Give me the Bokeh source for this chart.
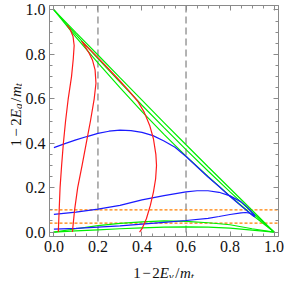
from bokeh.plotting import figure
from bokeh.models import FixedTicker, LinearAxis, Label, Span, Range1d
from bokeh.layouts import row, column
from bokeh.embed import file_html
from bokeh.resources import INLINE
import math

# ---------------- data ----------------
major_ticks = [0.0, 0.2, 0.4, 0.6, 0.8, 1.0]
tick_labels = ["0.0", "0.2", "0.4", "0.6", "0.8", "1.0"]
minor_ticks = [0.05, 0.1, 0.15, 0.25, 0.3, 0.35, 0.45, 0.5, 0.55, 0.65, 0.7, 0.75,
               0.85, 0.9, 0.95]

# green boundary lines from (0,1) to (1,0)
green_x = [0.0, 0.1, 0.2, 0.3, 0.4, 0.5, 0.6, 0.7, 0.8, 0.9, 1.0]
green_outer_y = [1.0, 0.898, 0.797, 0.695, 0.594, 0.493, 0.393, 0.294, 0.196, 0.098, 0.0]
green_mid_y = [1.0, 0.889, 0.781, 0.675, 0.571, 0.470, 0.371, 0.275, 0.181, 0.089, 0.0]
green_inner_y = [1.0, 0.878, 0.762, 0.650, 0.542, 0.440, 0.342, 0.250, 0.162, 0.078, 0.0]
# green boundary lines near the bottom, from (0,0) to (1,0)
green_low_x = [0.0, 0.1, 0.2, 0.3, 0.4, 0.5, 0.6, 0.7, 0.8, 0.9, 1.0]
green_low_a_y = [0.0, 0.015, 0.029, 0.039, 0.046, 0.050, 0.048, 0.042, 0.033, 0.015, 0.0]
green_low_b_y = [0.0, 0.005, 0.010, 0.015, 0.019, 0.022, 0.023, 0.022, 0.018, 0.009, 0.0]

# red curves
red1_x = [0.020, 0.024, 0.028, 0.035, 0.043, 0.053, 0.065, 0.080, 0.088, 0.092, 0.087, 0.075, 0.060]
red1_y = [0.0, 0.1, 0.2, 0.3, 0.4, 0.5, 0.6, 0.7, 0.78, 0.84, 0.88, 0.91, 0.932]
red2_x = [0.084, 0.094, 0.108, 0.128, 0.147, 0.166, 0.183, 0.191, 0.187, 0.175, 0.160, 0.142, 0.125]
red2_y = [0.0, 0.1, 0.2, 0.3, 0.4, 0.5, 0.6, 0.67, 0.73, 0.775, 0.805, 0.835, 0.86]
red3_x = [0.130, 0.200, 0.250, 0.300, 0.340, 0.380, 0.410, 0.435, 0.452, 0.463, 0.466,
          0.462, 0.452, 0.438, 0.420, 0.400, 0.389]
red3_y = [0.855, 0.785, 0.733, 0.680, 0.637, 0.590, 0.540, 0.480, 0.420, 0.350, 0.300,
          0.240, 0.180, 0.120, 0.060, 0.015, 0.0]

# blue curves
blue1_x = [0.0, 0.05, 0.1, 0.15, 0.2, 0.25, 0.3, 0.35, 0.4, 0.45, 0.5, 0.55, 0.6, 0.65,
           0.7, 0.75, 0.8, 0.85, 0.9, 0.912]
blue1_y = [0.380, 0.398, 0.415, 0.430, 0.444, 0.454, 0.459, 0.457, 0.449, 0.434, 0.410,
           0.382, 0.340, 0.294, 0.248, 0.205, 0.160, 0.118, 0.077, 0.068]
blue2_x = [0.0, 0.1, 0.2, 0.3, 0.4, 0.5, 0.6, 0.65, 0.7, 0.75, 0.8, 0.85, 0.88, 0.9, 0.912]
blue2_y = [0.080, 0.090, 0.103, 0.120, 0.145, 0.164, 0.181, 0.186, 0.186, 0.179, 0.163,
           0.136, 0.110, 0.088, 0.075]
blue3_x = [0.0, 0.1, 0.2, 0.3, 0.4, 0.5, 0.6, 0.7, 0.75, 0.8, 0.85, 0.87, 0.89, 0.905, 0.915]
blue3_y = [0.013, 0.017, 0.022, 0.028, 0.036, 0.044, 0.052, 0.062, 0.070, 0.079, 0.086,
           0.088, 0.085, 0.078, 0.070]

vline_x = [0.2, 0.6]        # grey dashed verticals
hline_y = [0.1, 0.04]       # orange dashed horizontals

# (text, font style, is subscript)
x_label_parts = [("1", "normal", False), ("\u2212", "normal", False), ("2", "normal", False),
                 ("E", "italic", False), ("\u03b3", "italic", True), ("/", "normal", False),
                 ("m", "italic", False), ("t", "italic", True)]
y_label_parts = [("1", "normal", False), ("\u2212", "normal", False), ("2", "normal", False),
                 ("E", "italic", False), ("g", "italic", True), ("/", "normal", False),
                 ("m", "italic", False), ("t", "italic", True)]

# ---------------- styling ----------------
FONT = "Liberation Serif"
AXIS_COL = "#8a8a8a"
GREEN = "#00ee00"
RED = "#ff1a1a"
BLUE = "#1a1aff"
TEXT_COL = "#111111"

P_W, P_H = 262, 258
B_LEFT, B_RIGHT, B_TOP, B_BOTTOM = 24, 6, 5, 22
YF_W = 22
XF_H = 20

p = figure(width=P_W, height=P_H, x_range=Range1d(-0.02, 1.02), y_range=Range1d(-0.02, 1.02),
           output_backend="svg", toolbar_location=None,
           min_border_left=B_LEFT, min_border_right=B_RIGHT,
           min_border_top=B_TOP, min_border_bottom=B_BOTTOM)
p.xgrid.visible = False
p.ygrid.visible = False
p.outline_line_color = AXIS_COL


def style_axis(ax, show_labels, standoff):
    ax.ticker = FixedTicker(ticks=major_ticks, minor_ticks=minor_ticks)
    ax.axis_line_color = AXIS_COL
    ax.major_tick_line_color = AXIS_COL
    ax.minor_tick_line_color = AXIS_COL
    ax.major_tick_in = 5
    ax.major_tick_out = 0
    ax.minor_tick_in = 3
    ax.minor_tick_out = 0
    ax.major_label_text_font = FONT
    ax.major_label_text_color = TEXT_COL
    ax.major_label_text_font_size = "16px"
    ax.major_label_standoff = standoff
    if show_labels:
        ax.major_label_overrides = {t: l for t, l in zip(major_ticks, tick_labels)}
    else:
        ax.major_label_overrides = {t: "" for t in major_ticks}


style_axis(p.xaxis[0], True, 4)
style_axis(p.yaxis[0], True, 4)
top_ax = LinearAxis()
right_ax = LinearAxis()
style_axis(top_ax, False, 0)
style_axis(right_ax, False, 0)
p.add_layout(top_ax, "above")
p.add_layout(right_ax, "right")

# reference lines
for xv in vline_x:
    p.add_layout(Span(location=xv, dimension="height", line_color="#9a9a9a",
                      line_width=1.5, line_dash="7 4", level="underlay"))
for yv in hline_y:
    p.add_layout(Span(location=yv, dimension="width", line_color="#ff8000",
                      line_width=1.3, line_dash="3 2", level="underlay"))

# curves
for ys in (green_outer_y, green_mid_y, green_inner_y):
    p.line(green_x, ys, line_color=GREEN, line_width=1.2)
for ys in (green_low_a_y, green_low_b_y):
    p.line(green_low_x, ys, line_color=GREEN, line_width=1.2)
for xs, ys in ((blue1_x, blue1_y), (blue2_x, blue2_y), (blue3_x, blue3_y)):
    p.line(xs, ys, line_color=BLUE, line_width=1.2)
for xs, ys in ((red1_x, red1_y), (red2_x, red2_y), (red3_x, red3_y)):
    p.line(xs, ys, line_color=RED, line_width=1.2)

# ---------------- axis labels (with subscripts) ----------------
MAIN_PX = 15
SUB_PX = 11
adv = {"1": 0.5, "2": 0.5, "\u2212": 0.564, "E": 0.62, "\u03b3": 0.46, "g": 0.5,
       "/": 0.28, "m": 0.72, "t": 0.3}
pad = {"\u2212": 1.5, "/": 0.5}


def piece_widths(parts, extra):
    ws = []
    for t, _, s in parts:
        w = adv[t] * (SUB_PX if s else MAIN_PX) + (0.6 if s else 0.0)
        w += 2 * pad.get(t, 0.0) * extra
        ws.append(w)
    return ws


def blank_fig(w, h, xr, yr):
    f = figure(width=w, height=h, x_range=xr, y_range=yr, output_backend="svg",
               toolbar_location=None, x_axis_type=None, y_axis_type=None,
               min_border=0, outline_line_color=None)
    f.xgrid.visible = False
    f.ygrid.visible = False
    return f


# x label figure (shares the x range, same horizontal frame as the plot)
xfig = blank_fig(P_W, XF_H, p.x_range, Range1d(0, XF_H))
xfig.min_border_left = B_LEFT
xfig.min_border_right = B_RIGHT
ws = piece_widths(x_label_parts, 1.0)
off = -sum(ws) / 2.0
for (txt, style, sub), w in zip(x_label_parts, ws):
    xfig.add_layout(Label(x=0.5, y=6 - (3 if sub else 0), x_offset=off + pad.get(txt, 0.0),
                          text=txt, text_font=FONT, text_font_style=style,
                          text_font_size=f"{SUB_PX if sub else MAIN_PX}px",
                          text_color=TEXT_COL, text_align="left", text_baseline="alphabetic"))
    off += w

# y label figure (pixel coordinates)
yfig = blank_fig(YF_W, P_H, Range1d(0, YF_W), Range1d(0, P_H))
ws = piece_widths(y_label_parts, 1.6)
off = -sum(ws) / 2.0
y_center = P_H - 114
for (txt, style, sub), w in zip(y_label_parts, ws):
    yfig.add_layout(Label(x=15 + (2.5 if sub else 0), y=y_center,
                          y_offset=off + pad.get(txt, 0.0) * 1.6,
                          text=txt, text_font=FONT, text_font_style=style,
                          text_font_size=f"{SUB_PX if sub else MAIN_PX}px", angle=math.pi / 2,
                          text_color=TEXT_COL, text_align="left", text_baseline="alphabetic"))
    off += w

layout = row(yfig, column(p, xfig))
open("out.html", "w").write(file_html(layout, INLINE))
